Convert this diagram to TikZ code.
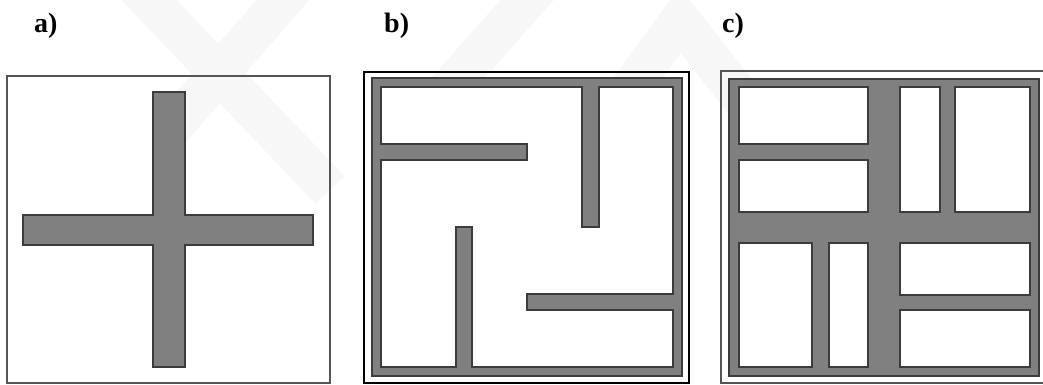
\documentclass[tikz,border=0pt]{standalone}
\usepackage{fontspec}
\setmainfont{Liberation Serif}
\definecolor{wallgray}{HTML}{808080}
\definecolor{walledge}{HTML}{3C3C3C}
\definecolor{boxedge}{HTML}{555555}
\definecolor{wmark}{HTML}{F7F7F7}
\tikzset{
  wall/.style={fill=wallgray, draw=walledge, line width=1.1pt},
  room/.style={fill=white, draw=walledge, line width=1.1pt},
  panelbox/.style={draw=boxedge, line width=1.2pt},
  lbl/.style={anchor=base west, inner sep=0pt, font=\fontsize{28}{32}\selectfont\bfseries},
  wmband/.style={draw=wmark, line width=40pt}
}
\begin{document}
\begin{tikzpicture}[x=1pt, y=-1pt]
\useasboundingbox (0,0) rectangle (1043,385);
% faint watermark
\draw[wmband] (130,-20) -- (330,190);
\draw[wmband] (300,-20) -- (170,130);
\draw[wmband] (545,-20) -- (385,160);
\draw[wmband] (600,130) -- (680,20) -- (790,160);
% labels
\node[lbl] (la) at (34,33) {a)};
\node[lbl] (lb) at (384,33) {b)};
\node[lbl] (lc) at (722,33) {c)};
% panel a
\draw[panelbox] (7,76) rectangle (330,383);
\draw[wall] (153,92) -- (185,92) -- (185,215) -- (313,215) -- (313,245) -- (185,245)
  -- (185,367) -- (153,367) -- (153,245) -- (23,245) -- (23,215) -- (153,215) -- cycle;
% panel b
\draw[panelbox, draw=black] (364,72) rectangle (689,383);
\draw[wall] (372,78) rectangle (682,376);
\draw[room] (381,87) -- (582,87) -- (582,227) -- (599,227) -- (599,87) -- (673,87)
  -- (673,294) -- (527,294) -- (527,310) -- (673,310) -- (673,367) -- (472,367)
  -- (472,227) -- (456,227) -- (456,367) -- (381,367) -- (381,160) -- (527,160)
  -- (527,144) -- (381,144) -- cycle;
% panel c
\draw[panelbox] (721,71) rectangle (1048,383);
\draw[wall] (729,79) rectangle (1039,376);
\draw[room] (739,87) rectangle (868,144);
\draw[room] (739,160) rectangle (868,212);
\draw[room] (900,87) rectangle (940,212);
\draw[room] (955,87) rectangle (1030,212);
\draw[room] (739,243) rectangle (812,367);
\draw[room] (829,243) rectangle (868,367);
\draw[room] (900,243) rectangle (1030,295);
\draw[room] (900,310) rectangle (1030,367);
\end{tikzpicture}
\end{document}
